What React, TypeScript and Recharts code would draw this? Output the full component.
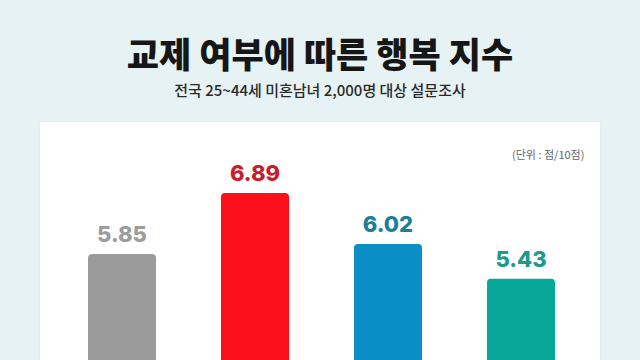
import React from 'react';
import { BarChart, Bar, XAxis, YAxis, LabelList, Cell } from 'recharts';

const categories = ['A', 'B', 'C', 'D'];
const values = [5.85, 6.89, 6.02, 5.43];
const barColors = ['#9b9b9b', '#fb0f1b', '#0a8ec6', '#08a797'];
const labelColors = ['#9c9c9c', '#c51f2e', '#1c7e98', '#1d9a89'];

const data = categories.map((c, i) => ({ name: c, value: values[i] }));

const renderLabel = (props: any) => {
  const { x, y, width, value, index } = props;
  return (
    <text
      x={x + width / 2}
      y={y - 12}
      textAnchor="middle"
      fill={labelColors[index]}
      fontFamily="Inter, 'Noto Sans', sans-serif"
      fontWeight={800}
      fontSize={22}
    >
      {value.toFixed(2)}
    </text>
  );
};

export default function App() {
  return (
    <div
      style={{
        position: 'absolute',
        left: 0,
        top: 0,
        width: 640,
        height: 360,
        overflow: 'hidden',
        background: '#e7f2f4',
      }}
    >
      <div
        style={{
          position: 'absolute',
          left: 0,
          top: 32,
          width: 640,
          textAlign: 'center',
          fontFamily: "'Noto Sans CJK KR', sans-serif",
          fontWeight: 900,
          fontSize: 35,
          color: '#161616',
          letterSpacing: 0,
          lineHeight: '42px',
        }}
      >
        교제 여부에 따른 행복 지수
      </div>
      <div
        style={{
          position: 'absolute',
          left: 0,
          top: 80,
          width: 640,
          textAlign: 'center',
          fontFamily: "'Noto Sans CJK KR', sans-serif",
          fontWeight: 500,
          fontSize: 15,
          color: '#2a2a2a',
          lineHeight: '20px',
        }}
      >
        전국 25~44세 미혼남녀 2,000명 대상 설문조사
      </div>
      <div
        style={{
          position: 'absolute',
          left: 40,
          top: 122,
          width: 560,
          height: 300,
          background: '#ffffff',
          borderRadius: 2,
          boxShadow: '0 0 3px rgba(0,0,0,0.05)',
        }}
      />
      <div
        style={{
          position: 'absolute',
          left: 512,
          top: 147,
          fontFamily: "'Noto Sans CJK KR', sans-serif",
          fontSize: 11,
          color: '#666666',
          lineHeight: '15px',
        }}
      >
        (단위 : 점/10점)
      </div>
      <div style={{ position: 'absolute', left: 0, top: 0 }}>
        <BarChart
          width={640}
          height={620}
          data={data}
          margin={{ top: 128, right: 53, bottom: 23, left: 55 }}
        >
          <XAxis dataKey="name" hide />
          <YAxis domain={[0, 8]} hide />
          <Bar dataKey="value" barSize={68} radius={[4, 4, 0, 0]} isAnimationActive={false}>
            {data.map((d, i) => (
              <Cell key={d.name} fill={barColors[i]} />
            ))}
            <LabelList dataKey="value" content={renderLabel} />
          </Bar>
        </BarChart>
      </div>
    </div>
  );
}
